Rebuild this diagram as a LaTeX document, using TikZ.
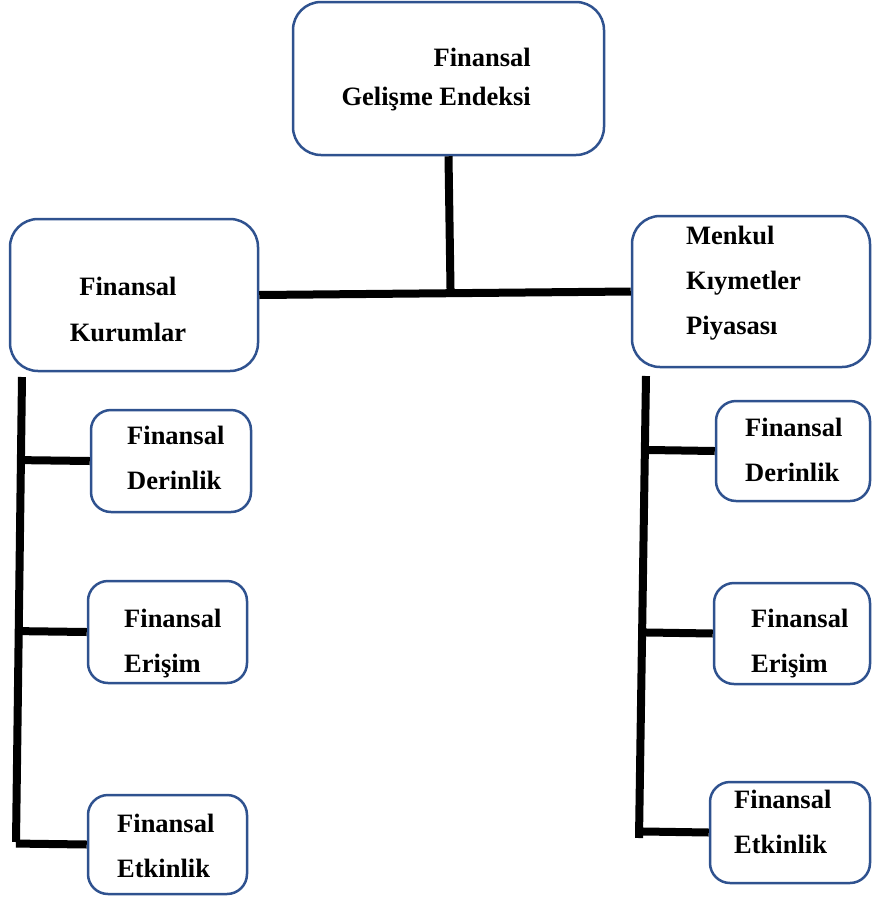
\documentclass[tikz,border=0pt]{standalone}
\usepackage{fontspec}
\setmainfont{Liberation Serif}
\usetikzlibrary{calc}
\definecolor{kutumavi}{HTML}{2F528F}
\tikzset{
	kutu/.style={draw=kutumavi, line width=2.5pt, rounded corners=28pt, fill=white, inner sep=0pt},
	kucukkutu/.style={kutu, rounded corners=20pt},
	yazi/.style={font=\fontsize{26.5}{45}\selectfont\bfseries, inner sep=0pt, align=left, anchor=west},
	cizgi/.style={line width=8pt, color=black}
}

\begin{document}
\begin{tikzpicture}[x=1pt, y=-1pt]
			%%%%% START %%%%%
			\useasboundingbox (0,0) rectangle (872,898);
			
			% ana kutular
			\node[kutu, minimum width=311pt, minimum height=153pt] (fge) at (448.5, 78.5) {};
			\node[kutu, minimum width=248pt, minimum height=152pt] (fk) at (134, 295) {};
			\node[kutu, minimum width=238pt, minimum height=151pt] (mkp) at (751, 291.5) {};
			
			\node[yazi, align=right, anchor=east, font=\fontsize{26.5}{39}\selectfont\bfseries] (fgeyazi) at (531, 79.5) {Finansal\\Gelişme Endeksi};
			\node[yazi, align=center, anchor=center, font=\fontsize{26.5}{46}\selectfont\bfseries] (fkyazi) at (128, 309) {Finansal\\Kurumlar};
			\node[yazi] (mkpyazi) at (686, 283.5) {Menkul\\Kıymetler\\Piyasası};
			
			% alt kutular
			\node[kucukkutu, minimum width=160pt, minimum height=102pt] (sold) at (171, 461) {};
			\node[kucukkutu, minimum width=159pt, minimum height=102pt] (sole) at (167.5, 632) {};
			\node[kucukkutu, minimum width=159pt, minimum height=99pt] (solk) at (167.5, 844.5) {};
			
			\node[kucukkutu, minimum width=154pt, minimum height=100pt] (sagd) at (793, 451) {};
			\node[kucukkutu, minimum width=156pt, minimum height=101pt] (sage) at (792, 633.5) {};
			\node[kucukkutu, minimum width=160pt, minimum height=101pt] (sagk) at (790, 832.5) {};
			
			\node[yazi] (soldyazi) at (127, 458) {Finansal\\Derinlik};
			\node[yazi] (soleyazi) at (124, 644) {Finansal\\Erişim};
			\node[yazi] (solkyazi) at (117, 846) {Finansal\\Etkinlik};
			
			\node[yazi] (sagdyazi) at (745, 450) {Finansal\\Derinlik};
			\node[yazi] (sageyazi) at (751, 644) {Finansal\\Erişim};
			\node[yazi] (sagkyazi) at (734, 822) {Finansal\\Etkinlik};
			
			% baglantilar
			\coordinate (kavsak) at ($(fk.east)!0.515!(mkp.west)$);
			\draw[cizgi] (fk.east) -- (mkp.west);
			\draw[cizgi] (fge.south) -- (kavsak);
			
			\coordinate (solust) at (22, 377);
			\coordinate (solalt) at (16, 842);
			\coordinate (sagust) at (646, 376);
			\coordinate (sagalt) at (639, 838);
			\draw[cizgi] (solust) -- (solalt);
			\draw[cizgi] (sagust) -- (sagalt);
			
			\draw[cizgi] ($(solust)!(sold.west)!(solalt)$) -- (sold.west);
			\draw[cizgi] ($(solust)!(sole.west)!(solalt)$) -- (sole.west);
			\draw[cizgi] ($(solust)!(solk.west)!(solalt)$) -- (solk.west);
			
			\draw[cizgi] ($(sagust)!(sagd.west)!(sagalt)$) -- (sagd.west);
			\draw[cizgi] ($(sagust)!(sage.west)!(sagalt)$) -- (sage.west);
			\draw[cizgi] ($(sagust)!(sagk.west)!(sagalt)$) -- (sagk.west);
			
			%%%%% END %%%%%
\end{tikzpicture}
\end{document}
